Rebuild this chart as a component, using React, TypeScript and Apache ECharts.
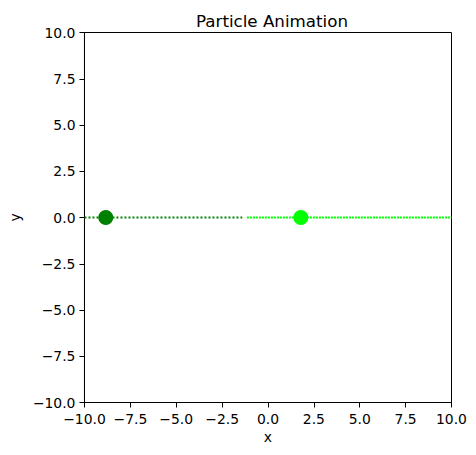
import React, { useEffect, useRef } from "react";
import * as echarts from "echarts";

const titleText = "Particle Animation";
const xTicks = [-10, -7.5, -5, -2.5, 0, 2.5, 5, 7.5, 10];
const yTicks = [-10, -7.5, -5, -2.5, 0, 2.5, 5, 7.5, 10];
const darkTrailX = [-10, -1.4];
const darkTrailY = [0, 0];
const limeTrailX = [-1.15, 10];
const limeTrailY = [0, 0];
const particleNames = ["dark", "lime"];
const particleX = [-8.84, 1.79];
const particleY = [0, 0];
const particleColors = ["#008000", "#00ff00"];

const fmt = (v: number) => v.toFixed(1).replace("-", "\u2212");
const FONT = "DejaVu Sans";

export default function App() {
  const ref = useRef<HTMLDivElement>(null);
  useEffect(() => {
    document.body.style.margin = "0";
    const chart = echarts.init(ref.current!, null, { renderer: "svg" });
    const axisCommon = {
      type: "value" as const,
      min: xTicks[0],
      max: xTicks[xTicks.length - 1],
      interval: 2.5,
      splitLine: { show: false },
      axisLine: { show: true, onZero: false, lineStyle: { color: "#000", width: 1 } },
      axisTick: { show: true, inside: false, length: 5, lineStyle: { color: "#000", width: 1 } },
      axisLabel: { formatter: fmt, color: "#000", fontSize: 13.9, fontFamily: FONT, margin: 9 },
      nameTextStyle: { color: "#000", fontSize: 13.9, fontFamily: FONT },
      nameLocation: "middle" as const,
    };
    chart.setOption({
      animation: false,
      backgroundColor: "#fff",
      title: {
        text: titleText,
        left: 267,
        top: 7,
        textAlign: "center",
        textStyle: { fontFamily: FONT, fontSize: 16.7, fontWeight: "normal", color: "#000" },
      },
      grid: {
        left: 82.5,
        top: 32.5,
        width: 369,
        height: 370,
        show: true,
        borderColor: "#000",
        borderWidth: 1,
        backgroundColor: "transparent",
      },
      xAxis: { ...axisCommon, name: "x", nameGap: 27 },
      yAxis: { ...axisCommon, min: yTicks[0], max: yTicks[yTicks.length - 1], name: "y", nameGap: 58 },
      series: [
        {
          type: "line",
          data: darkTrailX.map((x, i) => [x, darkTrailY[i]]),
          showSymbol: false,
          lineStyle: { color: "#008000", width: 2, type: [2, 2] },
          z: 2,
        },
        {
          type: "line",
          data: limeTrailX.map((x, i) => [x, limeTrailY[i]]),
          showSymbol: false,
          lineStyle: { color: "#00ff00", width: 2, type: [2, 1] },
          z: 2,
        },
        {
          type: "scatter",
          data: particleX.map((x, i) => ({
            name: particleNames[i],
            value: [x, particleY[i]],
            itemStyle: { color: particleColors[i], opacity: 1 },
          })),
          symbolSize: 15,
          itemStyle: { opacity: 1 },
          z: 3,
        },
      ],
    });
    return () => chart.dispose();
  }, []);
  return <div ref={ref} style={{ width: 476, height: 455 }} />;
}
